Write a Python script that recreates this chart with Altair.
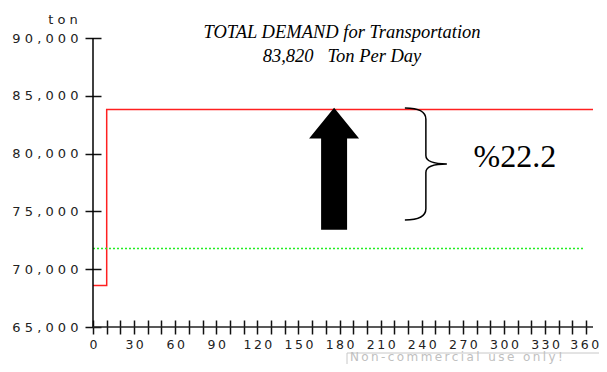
import altair as alt
import pandas as pd

# ---- data ----
step_days = [0, 10, 365]
step_tons = [68600, 83820, 83820]
avg_days = [0, 358]
avg_tons = [71800, 71800]
x_tick_values = list(range(0, 361, 10))
y_tick_values = [65000, 70000, 75000, 80000, 85000, 90000]
title_lines = ["TOTAL DEMAND for Transportation", "83,820\u00a0\u00a0\u00a0Ton Per Day"]
pct_text = "%22.2"
unit_text = "ton"
watermark_text = "Non-commercial use only!"

# annotation anchors (data coordinates)
ARROW_AT = (176, 78700)
BRACE_AT = (243, 79100)
PCT_AT = (308, 78850)

TS = "\u2009"  # thin space used for letter spacing

x_scale = alt.Scale(domain=[0, 365], nice=False, zero=False)
y_scale = alt.Scale(domain=[65000, 90000], nice=False, zero=False)

step_df = pd.DataFrame({"day": step_days, "ton": step_tons})
avg_df = pd.DataFrame({"day": avg_days, "ton": avg_tons})

x_axis = alt.Axis(
    values=x_tick_values, tickCount=100, title=None, grid=False, domain=False,
    tickSize=14, tickWidth=1.5, tickColor="#111", offset=-7,
    labelExpr="datum.value % 30 == 0 ? join(split(datum.label, ''), '" + TS + "') : ''",
    labelFont="DejaVu Sans", labelFontSize=12.5, labelColor="#222", labelPadding=4,
    labelFlush=False, labelOverlap=False,
    labelOffset={"condition": {"test": "datum.value == 360", "value": -2}, "value": 0},
)
y_axis = alt.Axis(
    values=y_tick_values, tickCount=100, title=None, grid=False, domain=False,
    tickSize=16, tickWidth=1.5, tickColor="#111", offset=-8,
    labelExpr="join(split(datum.label, ''), ' ')",
    labelFont="DejaVu Sans", labelFontSize=13, labelColor="#222", labelPadding=7,
    labelFlush=False, labelOverlap=False,
)

x_enc = alt.X("day:Q", scale=x_scale, axis=x_axis)
y_enc = alt.Y("ton:Q", scale=y_scale, axis=y_axis)

step_line = alt.Chart(step_df).mark_line(
    interpolate="step-after", color="#ff2020", strokeWidth=1.5
).encode(x=x_enc, y=y_enc)

avg_line = alt.Chart(avg_df).mark_line(
    color="#22ee22", strokeWidth=1.5, strokeDash=[2, 2]
).encode(x=x_enc, y=y_enc)

y_domain = alt.Chart().mark_rule(color="#000", strokeWidth=1.5).encode(
    x=alt.datum(0), y=alt.datum(65000), y2=alt.datum(90000)
)
x_domain = alt.Chart().mark_rule(color="#222", strokeWidth=1.5).encode(
    y=alt.datum(65000), x=alt.datum(0), x2=alt.datum(365)
)

arrow_path = ("M0,-1 L0.41,-0.492 L0.213,-0.492 L0.213,1 L-0.213,1 "
              "L-0.213,-0.492 L-0.41,-0.492 Z")
arrow = alt.Chart().mark_point(
    shape=arrow_path, size=122 * 122, filled=True, color="#000", opacity=1
).encode(x=alt.datum(ARROW_AT[0]), y=alt.datum(ARROW_AT[1]))

brace_path = ("M-0.375,-1 Q0,-1 0,-0.8 L0,-0.15 Q0,0 0.375,0 "
              "Q0,0 0,0.15 L0,0.8 Q0,1 -0.375,1")
brace = alt.Chart().mark_point(
    shape=brace_path, size=112 * 112, filled=False, stroke="#000",
    strokeWidth=1.5, opacity=1
).encode(x=alt.datum(BRACE_AT[0]), y=alt.datum(BRACE_AT[1]))

pct = alt.Chart().mark_text(
    text=pct_text, font="Liberation Serif", fontSize=32, color="#000",
    align="center", baseline="alphabetic"
).encode(x=alt.datum(PCT_AT[0]), y=alt.datum(PCT_AT[1]))

title1 = alt.Chart().mark_text(
    text=title_lines[0], font="Liberation Serif", fontStyle="italic",
    fontSize=18.5, color="#000", align="center", baseline="alphabetic"
).encode(x=alt.value(249), y=alt.value(0))
title2 = alt.Chart().mark_text(
    text=title_lines[1], font="Liberation Serif", fontStyle="italic",
    fontSize=18.5, color="#000", align="center", baseline="alphabetic"
).encode(x=alt.value(249), y=alt.value(24))

unit = alt.Chart().mark_text(
    text=" ".join(unit_text), font="DejaVu Sans", fontSize=13, color="#222",
    align="center", baseline="alphabetic"
).encode(x=alt.value(-30), y=alt.value(-14))

wm_box = alt.Chart().mark_rect(
    fill="white", stroke="#c8c8c8", strokeWidth=1
).encode(x=alt.value(254), x2=alt.value(520), y=alt.value(315), y2=alt.value(345))
wm_text = alt.Chart().mark_text(
    text=TS.join(watermark_text), font="DejaVu Sans", fontSize=12,
    color="#c0c0c0", align="left", baseline="alphabetic"
).encode(x=alt.value(257), y=alt.value(323))

chart = alt.layer(
    step_line, avg_line, y_domain, x_domain, arrow, brace, pct,
    title1, title2, unit, wm_box, wm_text
).properties(
    width=500, height=289,
    padding={"left": 85, "top": 30, "right": 6, "bottom": 37},
    autosize=alt.AutoSizeParams(type="none"),
    background="white",
).configure_view(stroke=None)

chart.save("out.html", embed_options={"renderer": "svg", "actions": False})
